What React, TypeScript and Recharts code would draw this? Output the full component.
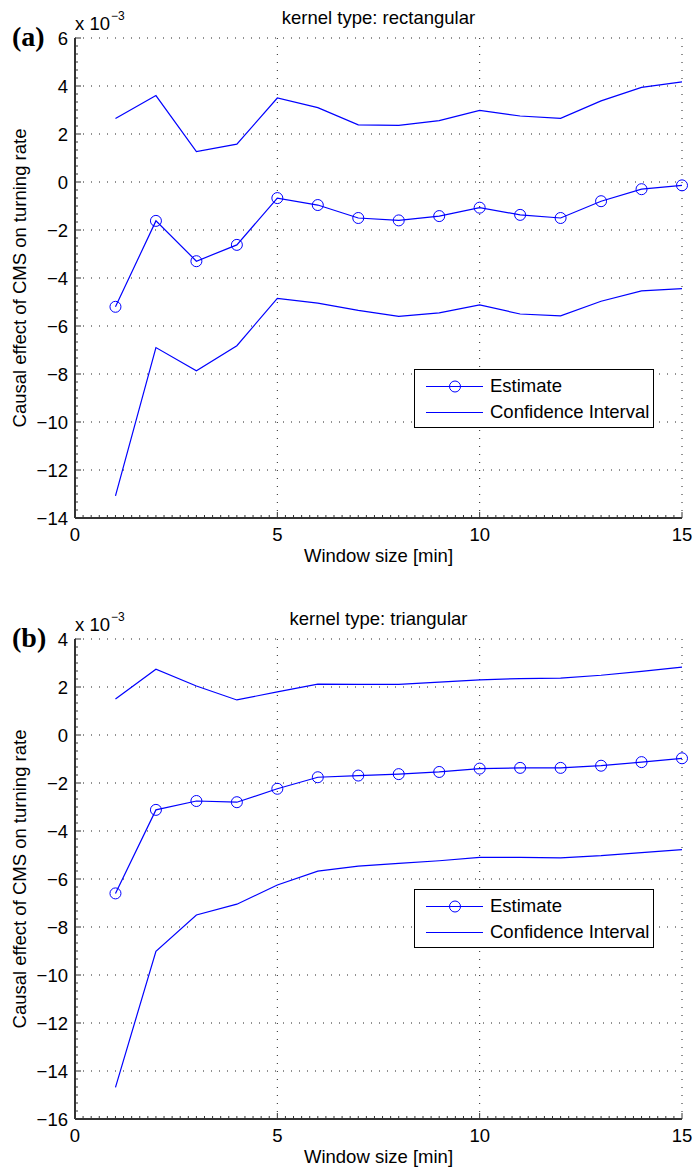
import React from "react";
import { LineChart, Line, XAxis, YAxis, CartesianGrid, Legend, ReferenceLine } from "recharts";

// window sizes in minutes
const windowSizes = [1, 2, 3, 4, 5, 6, 7, 8, 9, 10, 11, 12, 13, 14, 15];

// values in units of 1e-3
const rectEstimate = [-5.2, -1.62, -3.3, -2.62, -0.67, -0.96, -1.5, -1.6, -1.42, -1.07, -1.37, -1.5, -0.8, -0.3, -0.14];
const rectUpper = [2.65, 3.6, 1.27, 1.58, 3.5, 3.1, 2.38, 2.36, 2.56, 2.98, 2.75, 2.65, 3.38, 3.94, 4.17];
const rectLower = [-13.08, -6.9, -7.87, -6.82, -4.85, -5.05, -5.35, -5.6, -5.45, -5.12, -5.5, -5.58, -4.97, -4.54, -4.44];

const triEstimate = [-6.6, -3.12, -2.75, -2.8, -2.24, -1.76, -1.69, -1.63, -1.54, -1.4, -1.37, -1.37, -1.28, -1.13, -0.97];
const triUpper = [1.5, 2.74, 2.04, 1.46, 1.8, 2.12, 2.11, 2.11, 2.2, 2.3, 2.35, 2.37, 2.49, 2.65, 2.83];
const triLower = [-14.68, -9.01, -7.5, -7.05, -6.25, -5.67, -5.46, -5.35, -5.24, -5.1, -5.1, -5.12, -5.03, -4.9, -4.78];

const xTicks = [0, 5, 10, 15];
const yTicksRect = [-14, -12, -10, -8, -6, -4, -2, 0, 2, 4, 6];
const yTicksTri = [-16, -14, -12, -10, -8, -6, -4, -2, 0, 2, 4];

const BLUE = "#0000ff";
const FONT = '"Liberation Sans", Arial, Helvetica, sans-serif';
const FS = 18.5;

const CHART_W = 696;
const CHART_H = 569;

const fmt = (v: number) => (v < 0 ? `\u2212${-v}` : `${v}`);

// minor tick positions (ruler-like axes, ticks point inward)
const xMinor = Array.from({ length: 75 }, (_, i) => (i + 1) * 0.2);
const X_PER_PX = 15 / 607;
const Y_PER_PX = 20 / 480;

interface PanelProps {
  top: number;
  letter: string;
  title: string;
  yTicks: number[];
  estimate: number[];
  upper: number[];
  lower: number[];
  legendTop: number;
}

function LegendBox() {
  return (
    <div
      style={{
        width: 240,
        height: 59,
        boxSizing: "border-box",
        border: "1px solid #000",
        background: "#fff",
        position: "relative",
        fontFamily: FONT,
        fontSize: FS,
        color: "#000",
      }}
    >
      <svg width={72} height={57} style={{ position: "absolute", left: 0, top: 0 }}>
        <line x1={11} x2={68} y1={16.5} y2={16.5} stroke={BLUE} strokeWidth={1.2} />
        <circle cx={40} cy={16.5} r={5.5} fill="none" stroke={BLUE} strokeWidth={1} />
        <line x1={11} x2={68} y1={42.5} y2={42.5} stroke={BLUE} strokeWidth={1.2} />
      </svg>
      <div style={{ position: "absolute", left: 75, top: 16.5 - FS / 2, lineHeight: 1, whiteSpace: "nowrap" }}>Estimate</div>
      <div style={{ position: "absolute", left: 75, top: 42.5 - FS / 2, lineHeight: 1, whiteSpace: "nowrap" }}>
        Confidence Interval
      </div>
    </div>
  );
}

function Panel({ top, letter, title, yTicks, estimate, upper, lower, legendTop }: PanelProps) {
  const data = windowSizes.map((w, i) => ({ w, est: estimate[i], hi: upper[i], lo: lower[i] }));
  const yMin = yTicks[0];
  const yMax = yTicks[yTicks.length - 1];
  const yMinor = Array.from({ length: (yMax - yMin) * 3 }, (_, i) => yMin + (i + 1) / 3);

  const text: React.CSSProperties = {
    position: "absolute",
    fontFamily: FONT,
    fontSize: FS,
    lineHeight: 1,
    whiteSpace: "nowrap",
    color: "#000",
  };

  const xMajorLen = 6 * Y_PER_PX;
  const xMinorLen = 3 * Y_PER_PX;
  const yMajorLen = 6 * X_PER_PX;
  const yMinorLen = 3 * X_PER_PX;

  return (
    <div style={{ position: "absolute", left: 0, top, width: CHART_W, height: CHART_H }}>
      <LineChart width={CHART_W} height={CHART_H} data={data} margin={{ top: 38, right: 14, bottom: 0, left: 0 }}>
        <CartesianGrid stroke="#222" strokeDasharray="1 7" />
        <XAxis
          dataKey="w"
          type="number"
          domain={[0, 15]}
          ticks={xTicks}
          interval={0}
          tickFormatter={fmt}
          tick={{ fill: "#000", fontSize: FS, fontFamily: FONT }}
          axisLine={{ stroke: "#333", strokeWidth: 2 }}
          tickLine={false}
          tickSize={-6}
          tickMargin={16}
          height={51}
        />
        <YAxis
          type="number"
          domain={[yMin, yMax]}
          ticks={yTicks}
          interval={0}
          tickFormatter={fmt}
          tick={{ fill: "#000", fontSize: FS, fontFamily: FONT }}
          axisLine={{ stroke: "#333", strokeWidth: 2 }}
          tickLine={false}
          tickSize={-6}
          tickMargin={13}
          width={75}
        />
        {xMinor.map((v) => (
          <ReferenceLine
            key={`xm-${v}`}
            segment={[
              { x: v, y: yMin },
              { x: v, y: yMin + (xTicks.includes(Math.round(v * 10) / 10) ? xMajorLen : xMinorLen) },
            ]}
            stroke="#333"
            strokeWidth={1}
            ifOverflow="visible"
          />
        ))}
        {yMinor.map((v) => (
          <ReferenceLine
            key={`ym-${v}`}
            segment={[
              { x: 0, y: v },
              { x: yTicks.includes(Math.round(v * 1000) / 1000) ? yMajorLen : yMinorLen, y: v },
            ]}
            stroke="#333"
            strokeWidth={1}
            ifOverflow="visible"
          />
        ))}
        <Line
          dataKey="hi"
          type="linear"
          stroke={BLUE}
          strokeWidth={1.2}
          dot={false}
          activeDot={false}
          isAnimationActive={false}
        />
        <Line
          dataKey="lo"
          type="linear"
          stroke={BLUE}
          strokeWidth={1.2}
          dot={false}
          activeDot={false}
          isAnimationActive={false}
        />
        <Line
          dataKey="est"
          type="linear"
          stroke={BLUE}
          strokeWidth={1.2}
          dot={{ r: 5.5, stroke: BLUE, strokeWidth: 1, fill: "none" }}
          activeDot={false}
          isAnimationActive={false}
        />
        <Legend
          layout="vertical"
          verticalAlign="middle"
          align="center"
          content={() => <LegendBox />}
          wrapperStyle={{ left: 414, top: legendTop, width: 240, height: 59 }}
        />
      </LineChart>

      <div style={{ ...text, left: 378.5, top: 18, transform: "translate(-50%, -50%)" }}>{title}</div>
      <div style={{ ...text, left: 75, top: 24, transform: "translateY(-50%)" }}>x 10</div>
      <div style={{ ...text, left: 111, top: 16, fontSize: 12, transform: "translateY(-50%)" }}>{"\u22123"}</div>
      <div
        style={{
          ...text,
          left: 12,
          top: 37,
          fontFamily: '"Liberation Serif", "Times New Roman", serif',
          fontWeight: "bold",
          fontSize: 28,
          transform: "translateY(-50%)",
        }}
      >
        {letter}
      </div>
      <div
        style={{
          ...text,
          left: 19.5,
          top: 278,
          transform: "translate(-50%, -50%) rotate(-90deg)",
        }}
      >
        Causal effect of CMS on turning rate
      </div>
      <div style={{ ...text, left: 378.5, top: 556, transform: "translate(-50%, -50%)" }}>Window size [min]</div>
    </div>
  );
}

export default function App() {
  return (
    <div style={{ position: "absolute", left: 0, top: 0, width: 696, height: 1170, background: "#fff" }}>
      <Panel
        top={0}
        letter="(a)"
        title="kernel type: rectangular"
        yTicks={yTicksRect}
        estimate={rectEstimate}
        upper={rectUpper}
        lower={rectLower}
        legendTop={369}
      />
      <Panel
        top={601}
        letter="(b)"
        title="kernel type: triangular"
        yTicks={yTicksTri}
        estimate={triEstimate}
        upper={triUpper}
        lower={triLower}
        legendTop={288}
      />
    </div>
  );
}
